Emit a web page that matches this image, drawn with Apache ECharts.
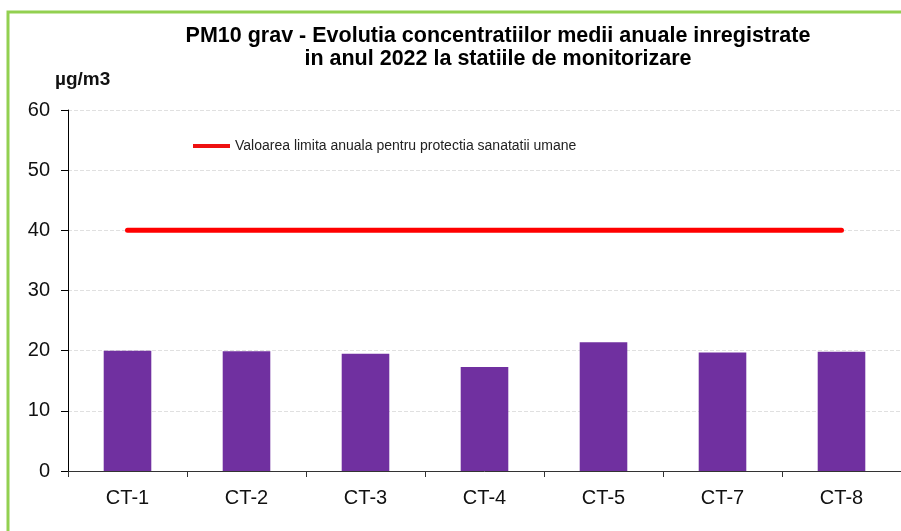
<!DOCTYPE html>
<html>
<head>
<meta charset="utf-8">
<script src="https://cdn.jsdelivr.net/npm/echarts@6/dist/echarts.min.js"></script>
<style>
  html, body { margin: 0; padding: 0; background: #fff; }
  #main { width: 901px; height: 531px; }
</style>
</head>
<body>
<div id="main"></div>
<script>
var stations = ['CT-1', 'CT-2', 'CT-3', 'CT-4', 'CT-5', 'CT-7', 'CT-8'];
var pm10Values = [20.0, 19.9, 19.5, 17.3, 21.4, 19.7, 19.8];
var limitValues = [40, 40, 40, 40, 40, 40, 40];
var limitName = 'Valoarea limita anuala pentru protectia sanatatii umane';

var myChart = echarts.init(document.getElementById('main'));
var font = '"Liberation Sans", Arial, sans-serif';

var option = {
    backgroundColor: '#fff',
    animation: false,
    title: {
        text: 'PM10 grav - Evolutia concentratiilor medii anuale inregistrate\nin anul 2022 la statiile de monitorizare',
        left: 498,
        top: 25,
        padding: 0,
        textAlign: 'center',
        textStyle: {
            fontFamily: font,
            fontSize: 21.5,
            fontWeight: 'bold',
            color: '#000',
            lineHeight: 23
        }
    },
    // frame round the chart (only top and left are visible)
    graphic: [{
        type: 'polyline',
        shape: { points: [[8, 531], [8, 12], [901, 12]] },
        style: { stroke: '#92d050', lineWidth: 3, fill: null }
    }],
    legend: {
        left: 193,
        top: 139,
        padding: 0,
        itemWidth: 37,
        itemHeight: 14,
        itemGap: 5,
        data: [{ name: limitName, icon: 'path://M0,5 L37,5 L37,9 L0,9 Z' }],
        textStyle: { fontFamily: font, fontSize: 14, color: '#222' }
    },
    grid: {
        left: 68,
        right: -4,
        top: 110,
        bottom: 60
    },
    xAxis: {
        type: 'category',
        data: stations,
        axisLine: { lineStyle: { color: '#333', width: 1 } },
        axisTick: { show: true, length: 6, lineStyle: { color: '#333' } },
        axisLabel: {
            margin: 17,
            fontFamily: font,
            fontSize: 20,
            color: '#111'
        }
    },
    yAxis: {
        type: 'value',
        min: 0,
        max: 60,
        interval: 10,
        name: 'µg/m3',
        nameLocation: 'end',
        nameGap: 21,
        nameTextStyle: {
            fontFamily: font,
            fontSize: 19,
            fontWeight: 'bold',
            color: '#111',
            align: 'left',
            padding: [0, 0, 0, -13]
        },
        axisLine: { show: true, lineStyle: { color: '#000', width: 1 } },
        axisTick: { show: true, length: 7, lineStyle: { color: '#000' } },
        axisLabel: {
            margin: 18,
            fontFamily: font,
            fontSize: 20,
            color: '#111'
        },
        splitLine: {
            show: true,
            lineStyle: { color: '#e0e0e0', type: 'dashed', width: 1 }
        }
    },
    series: [
        {
            name: 'PM10',
            type: 'bar',
            data: pm10Values,
            barWidth: '40%',
            itemStyle: { color: '#7030a0' }
        },
        {
            name: limitName,
            type: 'line',
            data: limitValues,
            symbol: 'none',
            lineStyle: { color: '#ff0000', width: 5, cap: 'round' },
            itemStyle: { color: '#ee1111' },
            z: 3
        }
    ]
};
myChart.setOption(option);
</script>
</body>
</html>
